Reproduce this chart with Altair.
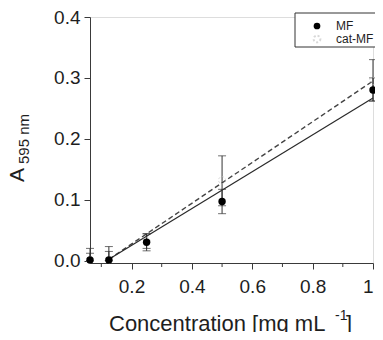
import altair as alt
import pandas as pd

# ---- data ----
conc = [0.0625, 0.125, 0.25, 0.5, 1.0]
mf_mean = [0.001, 0.001, 0.030, 0.097, 0.280]
mf_lo = [0.000, 0.000, 0.016, 0.077, 0.262]
mf_hi = [0.020, 0.023, 0.044, 0.117, 0.300]
cat_mean = [0.001, 0.001, 0.032, 0.132, 0.295]
cat_lo = [0.000, 0.000, 0.020, 0.090, 0.262]
cat_hi = [0.012, 0.015, 0.044, 0.172, 0.330]

fit_x = [0.125, 1.0]
mf_fit = [0.002, 0.267]
cat_fit = [0.002, 0.295]

x_major = [0.2, 0.4, 0.6, 0.8, 1.0]
x_minor = [0.1, 0.3, 0.5, 0.7, 0.9]
y_ticks = [0.0, 0.1, 0.2, 0.3, 0.4]

FONT = "Liberation Sans"
AX = "#3a3a3a"
TXT = "#1e1e1e"

W, H = 283, 246

pts = pd.DataFrame({"x": conc * 2,
                    "y": mf_mean + cat_mean,
                    "lo": mf_lo + cat_lo,
                    "hi": mf_hi + cat_hi,
                    "s": ["MF"] * 5 + ["cat-MF"] * 5})
mf = pts[pts.s == "MF"]
cat = pts[pts.s == "cat-MF"]
fits = pd.DataFrame({"x": fit_x * 2, "y": mf_fit + cat_fit,
                     "s": ["MF"] * 2 + ["cat-MF"] * 2})

xs = alt.Scale(domain=[0.0625, 1.0], nice=False, zero=False)
ys = alt.Scale(domain=[-0.004, 0.4], nice=False, zero=False)

x_axis = alt.Axis(values=x_major, labelExpr="datum.value == 1 ? '1' : format(datum.value, '.1f')",
                  grid=False, domainColor=AX, tickColor=AX, tickSize=6, labelFontSize=19,
                  labelFont=FONT, labelColor=TXT, labelPadding=8, title=None)
y_axis = alt.Axis(values=y_ticks, format=".1f", grid=False, domainColor=AX, tickColor=AX,
                  tickSize=6, labelFontSize=19, labelFont=FONT, labelColor=TXT,
                  labelPadding=4, title=None)


def X(f):
    return alt.X(f, type="quantitative", scale=xs, axis=x_axis)


def Y(f):
    return alt.Y(f, type="quantitative", scale=ys, axis=y_axis)


base = alt.Chart(pts)

minor = alt.Chart(pd.DataFrame({"x": x_minor})).mark_rule(color=AX, strokeWidth=1).encode(
    x=X("x"), y=alt.value(H), y2=alt.value(H + 4),
)

err_rule = base.mark_rule(color="#333", strokeWidth=1).encode(
    x=X("x"), y=Y("lo"), y2="hi")
cap_lo = base.mark_tick(orient="horizontal", size=8, thickness=1, color="#333").encode(
    x=X("x"), y=Y("lo"))
cap_hi = base.mark_tick(orient="horizontal", size=8, thickness=1, color="#333").encode(
    x=X("x"), y=Y("hi"))

fit_mf = alt.Chart(fits[fits.s == "MF"]).mark_line(color="#2a2a2a", strokeWidth=1.2).encode(
    x=X("x"), y=Y("y"))
fit_cat = alt.Chart(fits[fits.s == "cat-MF"]).mark_line(
    color="#444", strokeWidth=1.4, strokeDash=[5, 3]).encode(
    x=X("x"), y=Y("y"))

cat_pts = alt.Chart(cat).mark_point(shape="circle", filled=False, size=50, color="#c8c8c8",
                                    strokeDash=[2, 2], strokeWidth=1).encode(
    x=X("x"), y=Y("y"))
mf_pts = alt.Chart(mf).mark_point(shape="circle", filled=True, size=55, color="#000",
                                  opacity=1).encode(
    x=X("x"), y=Y("y"))

# legend (drawn manually)
one = pd.DataFrame({"a": [0]})
leg_box = alt.Chart(one).mark_rect(fill="white", stroke="#333", strokeWidth=1).encode(
    x=alt.value(205), x2=alt.value(300), y=alt.value(-4), y2=alt.value(30))
leg_sym1 = alt.Chart(one).mark_point(
    shape="circle", filled=True, size=45, color="#000", opacity=1).encode(
    x=alt.value(227), y=alt.value(9))
leg_sym2 = alt.Chart(one).mark_point(
    shape="circle", filled=False, size=45, color="#c8c8c8", strokeDash=[2, 2]).encode(
    x=alt.value(227), y=alt.value(22))
leg_t1 = alt.Chart(one).mark_text(
    align="left", baseline="middle", font=FONT, fontSize=12, color=TXT, text="MF").encode(
    x=alt.value(246), y=alt.value(9))
leg_t2 = alt.Chart(one).mark_text(
    align="left", baseline="middle", font=FONT, fontSize=12, color=TXT, text="cat-MF").encode(
    x=alt.value(246), y=alt.value(22))


# axis titles as text marks
def txt(s, x, y, size, angle=None, align="left"):
    kw = dict(font=FONT, fontSize=size, color=TXT, align=align, baseline="alphabetic", text=s)
    enc = dict(x=alt.value(x), y=alt.value(y))
    if angle is not None:
        enc["angle"] = alt.value(angle)
    return alt.Chart(one).mark_text(**kw).encode(**enc)


title_parts = [
    txt("Concentration [mg mL", 19, 314, 22),
    txt("-1", 245, 303, 14),
    txt("]", 256, 314, 22),
    txt("A", -66, 158, 21, angle=270, align="center"),
    txt("595 nm", -61, 122, 15, angle=270, align="center"),
]

chart = alt.layer(minor, fit_cat, fit_mf, err_rule, cap_lo, cap_hi, cat_pts, mf_pts,
                  leg_box, leg_sym1, leg_sym2, leg_t1, leg_t2, *title_parts).properties(
    width=W, height=H,
    autosize=alt.AutoSizeParams(type="none"),
    padding={"left": 82, "top": 9, "right": 2, "bottom": 69},
).configure_view(stroke=None).configure(background="white")

chart.save("out.html", embed_options={"renderer": "svg", "actions": False})
